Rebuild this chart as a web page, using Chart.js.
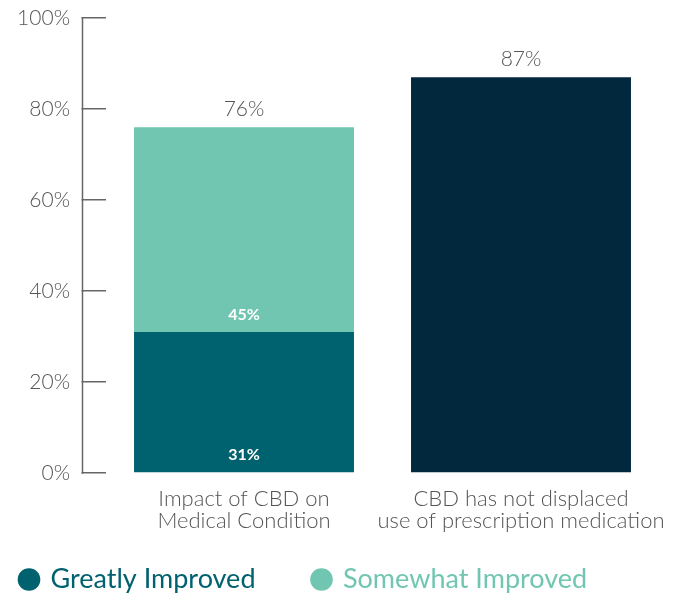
<!DOCTYPE html>
<html><head><meta charset="utf-8">
<script src="https://cdn.jsdelivr.net/npm/chart.js@4/dist/chart.umd.min.js"></script>
<style>html,body{margin:0;padding:0;background:#fff}#wrap{width:680px;height:597px;position:relative}</style>
</head><body><div id="wrap"><canvas id="c"></canvas></div>
<script>
const categories = [["Impact of CBD on", "Medical Condition"], ["CBD has not displaced", "use of prescription medication"]];
const seriesNames = ["Greatly Improved", "Somewhat Improved", "Has not displaced prescription medication"];
const greatlyImproved = [31, null];
const somewhatImproved = [45, null];
const notDisplaced = [null, 87];
const yTickValues = [0, 20, 40, 60, 80, 100];

const GRAY = '#555555';
const FONT = 'Lato, "Open Sans", sans-serif';

const axisLinePlugin = {
  id: 'axisLine',
  afterDraw(chart) {
    const y = chart.scales.y;
    const ctx = chart.ctx;
    const x = Math.round(chart.chartArea.left - 24) + 0.5;
    ctx.save();
    ctx.strokeStyle = '#666666';
    ctx.lineWidth = 1.5;
    ctx.beginPath();
    ctx.moveTo(x, y.getPixelForValue(100) - 0.75);
    ctx.lineTo(x, y.getPixelForValue(0) + 0.75);
    ctx.stroke();
    ctx.restore();
  }
};

const labelsPlugin = {
  id: 'valueLabels',
  afterDatasetsDraw(chart) {
    const ctx = chart.ctx;
    ctx.save();
    ctx.textAlign = 'center';
    ctx.textBaseline = 'alphabetic';
    ctx.fillStyle = '#ffffff';
    ctx.font = 'bold 16px ' + FONT;
    [0, 1].forEach(di => {
      const meta = chart.getDatasetMeta(di);
      meta.data.forEach((bar, i) => {
        const v = chart.data.datasets[di].data[i];
        if (v == null) return;
        ctx.fillText(v + '%', bar.x, bar.base - 12);
      });
    });
    ctx.fillStyle = GRAY;
    ctx.font = '300 21px ' + FONT;
    const xs = chart.scales.x, ys = chart.scales.y;
    chart.data.labels.forEach((lab, i) => {
      let total = 0;
      chart.data.datasets.forEach(ds => { if (ds.data[i] != null) total += ds.data[i]; });
      ctx.fillText(total + '%', xs.getPixelForValue(i), ys.getPixelForValue(total) - 11);
    });
    ctx.restore();
  }
};

const legendPlacePlugin = {
  id: 'legendPlace',
  afterLayout(chart) {
    const lg = chart.legend;
    if (!lg) return;
    const p = lg.options.labels.padding;
    lg.left = 21 - p;
    lg.top = 566 - p;
  }
};

new Chart(document.getElementById('c'), {
  type: 'bar',
  data: {
    labels: categories,
    datasets: [
      { label: seriesNames[0], data: greatlyImproved, backgroundColor: '#00616f' },
      { label: seriesNames[1], data: somewhatImproved, backgroundColor: '#71c6b1' },
      { label: seriesNames[2], data: notDisplaced, backgroundColor: '#01283d' }
    ]
  },
  options: {
    responsive: true,
    maintainAspectRatio: false,
    animation: false,
    categoryPercentage: 1,
    barPercentage: 0.794,
    layout: { padding: { top: 18, right: 20.5, left: 0, bottom: 0 } },
    plugins: {
      tooltip: { enabled: false },
      legend: {
        position: 'bottom',
        align: 'start',
        maxHeight: 46,
        labels: {
          usePointStyle: true,
          pointStyle: 'circle',
          boxWidth: 16,
          boxHeight: 16,
          padding: 58,
          font: { family: FONT, size: 27, lineHeight: 1 },
          filter: item => item.datasetIndex < 2,
          generateLabels(chart) {
            const items = Chart.defaults.plugins.legend.labels.generateLabels(chart);
            return items.map(it => Object.assign(it, { fontColor: it.fillStyle, lineWidth: 0, strokeStyle: 'rgba(0,0,0,0)' }));
          }
        }
      }
    },
    scales: {
      x: {
        stacked: true,
        grid: { display: false },
        border: { display: false },
        ticks: { color: GRAY, font: { family: FONT, size: 22, weight: '300', lineHeight: 1 }, padding: 7, maxRotation: 0, autoSkip: false },
        afterFit(s) { s.height = 78; s.paddingLeft = 0; s.paddingRight = 0; }
      },
      y: {
        stacked: true,
        min: 0,
        max: 100,
        afterBuildTicks(s) { s.ticks = yTickValues.map(v => ({ value: v })); },
        ticks: { color: GRAY, font: { family: FONT, size: 21, weight: '300' }, padding: 11.5, callback: v => v + '%' },
        grid: { drawOnChartArea: false, tickLength: 24, color: '#666666', lineWidth: 1.5 },
        border: { display: false },
        afterFit(s) { s.width = 105.5; s.paddingTop = 0; s.paddingBottom = 0; }
      }
    }
  },
  plugins: [axisLinePlugin, labelsPlugin, legendPlacePlugin]
});
</script>
</body></html>
